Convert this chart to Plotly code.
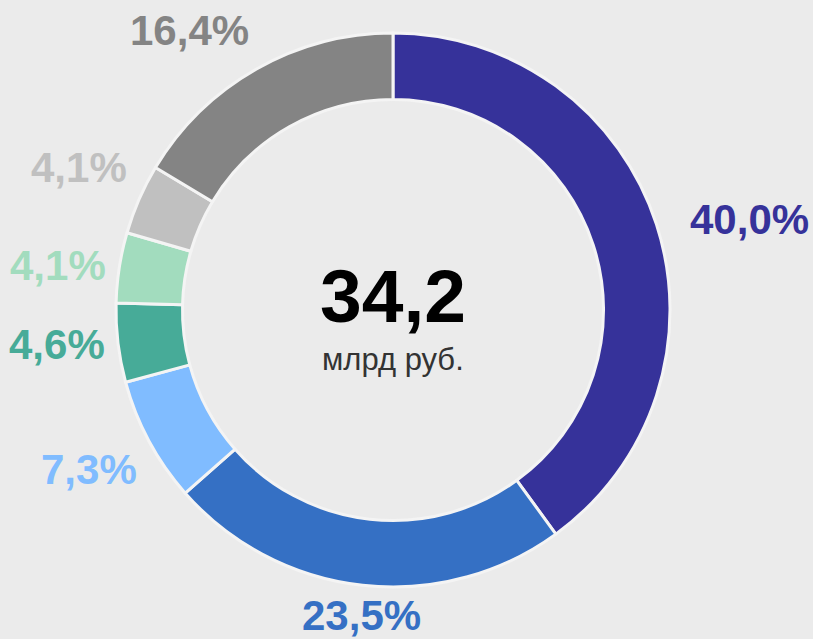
import numpy as np
import plotly.graph_objects as go

labels = ["A", "B", "C", "D", "E", "F", "G"]
values = [40.0, 23.5, 7.3, 4.6, 4.1, 4.1, 16.4]
colors = ["#36329a", "#3570c4", "#80bcff", "#47ab98", "#a2dcbe", "#c0c0c0", "#848484"]
total_text = "34,2"
unit_text = "млрд руб."

W, H = 813, 639
cx, cy, R = 393, 310, 277

fig = go.Figure(go.Pie(
    labels=labels, values=values, sort=False, direction="clockwise", rotation=0,
    hole=0.76, marker=dict(colors=colors, line=dict(color="#f4f4f4", width=3)),
    textinfo="none", hoverinfo="label+percent", showlegend=False,
    domain=dict(x=[(cx - R) / W, (cx + R) / W], y=[(H - cy - R) / H, (H - cy + R) / H]),
))

# outside labels placed at the mid angle of each slice
cum = np.cumsum([0] + values[:-1])
tot = sum(values)
for v, c, col in zip(values, cum, colors):
    th = 2 * np.pi * (c + v / 2) / tot
    s, co = np.sin(th), np.cos(th)
    r = 310 if s > 0.3 else 288
    x = cx + r * s
    y = cy - (282 if co < -0.35 else 292) * co
    xa = "left" if s > 0.3 else ("right" if s < -0.3 else "center")
    ya = "bottom" if co > 0.35 else ("top" if co < -0.35 else "middle")
    fig.add_annotation(x=x / W, y=1 - y / H, xref="paper", yref="paper",
                       xanchor=xa, yanchor=ya, showarrow=False,
                       text=f"{v:.1f}%".replace(".", ","),
                       font=dict(size=42, color=col, family="Liberation Sans, Arial", weight="bold"))

fig.add_annotation(x=cx / W, y=1 - 296 / H, xref="paper", yref="paper", showarrow=False,
                   text=f"<b>{total_text}</b>",
                   font=dict(size=75, color="#000000", family="Liberation Sans, Arial"))
fig.add_annotation(x=cx / W, y=1 - 359 / H, xref="paper", yref="paper", showarrow=False,
                   text=unit_text,
                   font=dict(size=31, color="#333333", family="Liberation Sans, Arial"))

fig.update_layout(width=W, height=H, margin=dict(l=0, r=0, t=0, b=0),
                  paper_bgcolor="#ebebeb", plot_bgcolor="#ebebeb")
fig.write_html("out.html", config={"displayModeBar": False},
               post_script="document.body.style.margin='0';")
